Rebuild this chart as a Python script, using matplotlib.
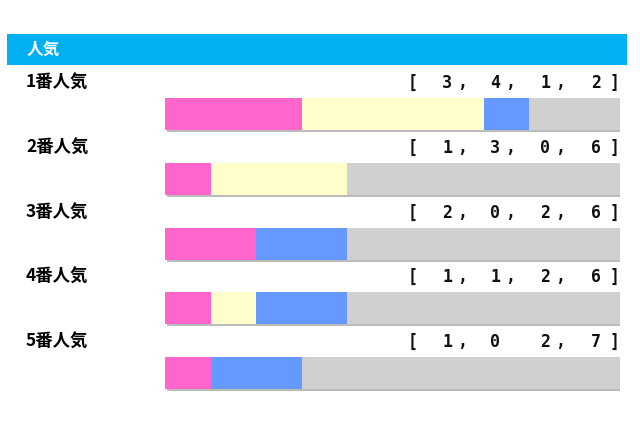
import matplotlib
matplotlib.use("Agg")
import matplotlib.pyplot as plt
import matplotlib.patches as mpatches
import matplotlib.patheffects as pe
import numpy as np

plt.rcParams['font.family'] = ['Noto Sans CJK JP', 'DejaVu Sans']

title = "人気"
categories = ["1番人気", "2番人気", "3番人気", "4番人気", "5番人気"]
wins = [3, 1, 2, 1, 1]
second = [4, 3, 0, 1, 0]
third = [1, 0, 2, 2, 2]
others = [2, 6, 6, 6, 7]
# text tokens as shown (row 5 lacks the comma after 0)
value_labels = [
    ["3,", "4,", "1,", "2"],
    ["1,", "3,", "0,", "6"],
    ["2,", "0,", "2,", "6"],
    ["1,", "1,", "2,", "6"],
    ["1,", "0", "2,", "7"],
]

colors = ["#FF66CC", "#FFFFCC", "#6699FF", "#D0D0D0"]

W, H = 640, 426
fig = plt.figure(figsize=(W / 100, H / 100), dpi=100)
bg = fig.add_axes([0, 0, 1, 1])
bg.set_xlim(0, W)
bg.set_ylim(H, 0)
bg.axis("off")

# header
bg.add_patch(mpatches.Rectangle((7, 34), 620, 31, color="#00B0F0", lw=0))
bg.text(27, 50, title, color="white", fontsize=12, fontweight="bold", va="center", ha="left")

row0 = 114.0
step = 64.75
digit_x = [447, 495, 545, 596]
mono = dict(fontsize=12, fontweight="bold", family="DejaVu Sans Mono", va="center", color="#111111")
for i, cat in enumerate(categories):
    yc = row0 + step * i
    ty = yc - 31
    bg.text(26, ty, cat, fontsize=12.5, fontweight="bold", va="center", ha="left", color="black")
    bg.text(413, ty, "[", ha="center", **mono)
    bg.text(615, ty, "]", ha="center", **mono)
    for x, tok in zip(digit_x, value_labels[i]):
        bg.text(x, ty, tok[0], ha="center", **mono)
        if tok.endswith(","):
            bg.text(x + 15, ty, ",", ha="center", **mono)

# bar axes
top_px = row0 - step / 2
bot_px = row0 + step * 4.5
left_px, right_px = 165, 620
ax = fig.add_axes([left_px / W, 1 - bot_px / H, (right_px - left_px) / W, (bot_px - top_px) / H])
ax.set_xlim(0, 10)
ax.set_ylim(4.5, -0.5)
ax.axis("off")

y = np.arange(len(categories))
totals = np.array(wins) + np.array(second) + np.array(third) + np.array(others)
hgt = 32 / step
ax.barh(y, totals, height=hgt, color=colors[3], lw=0,
        path_effects=[pe.SimplePatchShadow(offset=(1.5, -1.5), shadow_rgbFace="#AAAAAA", alpha=0.8), pe.Normal()])
left = np.zeros(len(categories))
for vals, c in zip([wins, second, third], colors[:3]):
    ax.barh(y, vals, left=left, height=hgt, color=c, lw=0)
    left += np.array(vals)

fig.savefig("out.png", dpi=100)
